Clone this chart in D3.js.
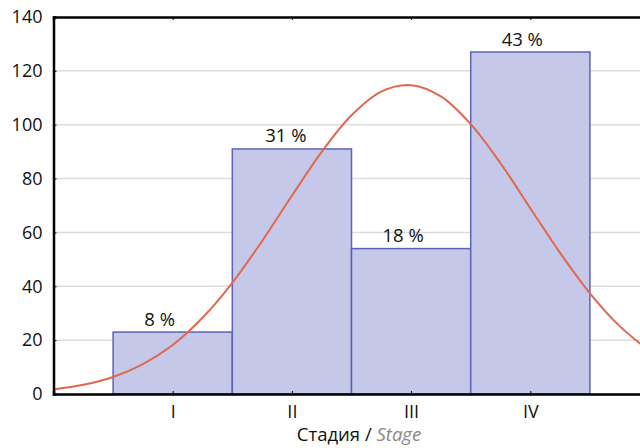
<!DOCTYPE html>
<html>
<head>
<meta charset="utf-8">
<script src="https://cdn.jsdelivr.net/npm/d3@7"></script>
<style>
  body { margin: 0; background: #fff; }
  svg { display: block; font-family: "Open Sans", sans-serif; }
</style>
</head>
<body>
<svg id="chart" width="640" height="448"></svg>
<script>
// Histogram of stages with fitted normal curve

var stages = ["I", "II", "III", "IV"];
var counts = [23, 91, 54, 127];
var percent_labels = ["8 %", "31 %", "18 %", "43 %"];
var y_ticks = [0, 20, 40, 60, 80, 100, 120, 140];

// normal curve, every quarter stage
var curve_x = [0, 0.25, 0.5, 0.75, 1, 1.25, 1.5, 1.75, 2, 2.25, 2.5, 2.75, 3,
               3.25, 3.5, 3.75, 4, 4.25, 4.5, 4.75, 5];
var curve_y = [1.7, 3.4, 6.3, 11.1, 18.2, 28.3, 41.3, 56.8, 73.6, 89.9, 103.5, 112.3, 114.7,
               110.5, 100.2, 85.7, 69.0, 52.4, 37.4, 25.2, 16.0];

var svg = d3.select("#chart");

// note: "top" is taken by window.top, so prefix the margins
var plot_left = 53.5, plot_right = 649.5, plot_top = 17, plot_bottom = 394;

// stage n sits at x = n, each bin is one unit wide
var x = d3.scaleLinear().domain([0, 5]).range([plot_left, plot_right]);
var y = d3.scaleLinear().domain([0, 140]).range([plot_bottom, plot_top]);

// gridlines
svg.append("g")
  .selectAll("line")
  .data(y_ticks.slice(1, -1))
  .enter()
  .append("line")
  .attr("x1", plot_left)
  .attr("x2", 640)
  .attr("y1", function(d) { return y(d); })
  .attr("y2", function(d) { return y(d); })
  .attr("stroke", "#dcdcdc")
  .attr("stroke-width", 1.5);

// bars
svg.append("g")
  .selectAll("rect")
  .data(counts)
  .enter()
  .append("rect")
  .attr("x", function(d, i) { return x(i + 0.5); })
  .attr("y", function(d) { return y(d); })
  .attr("width", x(1) - x(0))
  .attr("height", function(d) { return y(0) - y(d); })
  .attr("fill", "#c5c8e9")
  .attr("stroke", "#5a63b6")
  .attr("stroke-width", 1.5);

// bar labels, placed a little left of the bar centre as in the original
var label_dx = [-13, -6, -8, -8];
svg.append("g")
  .selectAll("text")
  .data(counts)
  .enter()
  .append("text")
  .attr("x", function(d, i) { return x(i + 1) + label_dx[i]; })
  .attr("y", function(d) { return y(d) - 6.5; })
  .attr("text-anchor", "middle")
  .attr("font-size", 18.5)
  .attr("fill", "#111")
  .text(function(d, i) { return percent_labels[i]; });

// fitted curve
var line = d3.line()
  .x(function(d, i) { return x(curve_x[i]); })
  .y(function(d) { return y(d); })
  .curve(d3.curveCatmullRom);

svg.append("path")
  .attr("d", line(curve_y))
  .attr("fill", "none")
  .attr("stroke", "#e2674f")
  .attr("stroke-width", 2);

// y axis
var y_axis = d3.axisLeft(y)
  .tickValues(y_ticks)
  .tickSize(-3)
  .tickPadding(11);

var gy = svg.append("g")
  .attr("transform", "translate(" + plot_left + ",0)")
  .call(y_axis);
gy.select(".domain").attr("stroke", "#000").attr("stroke-width", 2.5);
gy.selectAll("text").attr("font-size", 18).attr("font-family", "Open Sans").attr("fill", "#111");

// x axis
var x_axis = d3.axisBottom(x)
  .tickValues([1, 2, 3, 4])
  .tickFormat(function(d) { return stages[d - 1]; })
  .tickSize(-3)
  .tickPadding(11);

var gx = svg.append("g")
  .attr("transform", "translate(0," + plot_bottom + ")")
  .call(x_axis);
gx.select(".domain").attr("stroke", "#000").attr("stroke-width", 2.5);
gx.selectAll("text").attr("font-size", 18).attr("font-family", "Open Sans").attr("fill", "#111");

// top border with ticks
var x_top = d3.axisTop(x)
  .tickValues([1, 2, 3, 4])
  .tickFormat("")
  .tickSize(-3);

var gt = svg.append("g")
  .attr("transform", "translate(0," + plot_top + ")")
  .call(x_top);
gt.select(".domain").attr("stroke", "#000").attr("stroke-width", 2.5);

// x title
var title = svg.append("text")
  .attr("x", 359)
  .attr("y", 441)
  .attr("text-anchor", "middle")
  .attr("font-size", 18.5)
  .attr("fill", "#111");
title.append("tspan").text("Стадия / ");
title.append("tspan").attr("font-style", "italic").attr("fill", "#888").text("Stage");
</script>
</body>
</html>
